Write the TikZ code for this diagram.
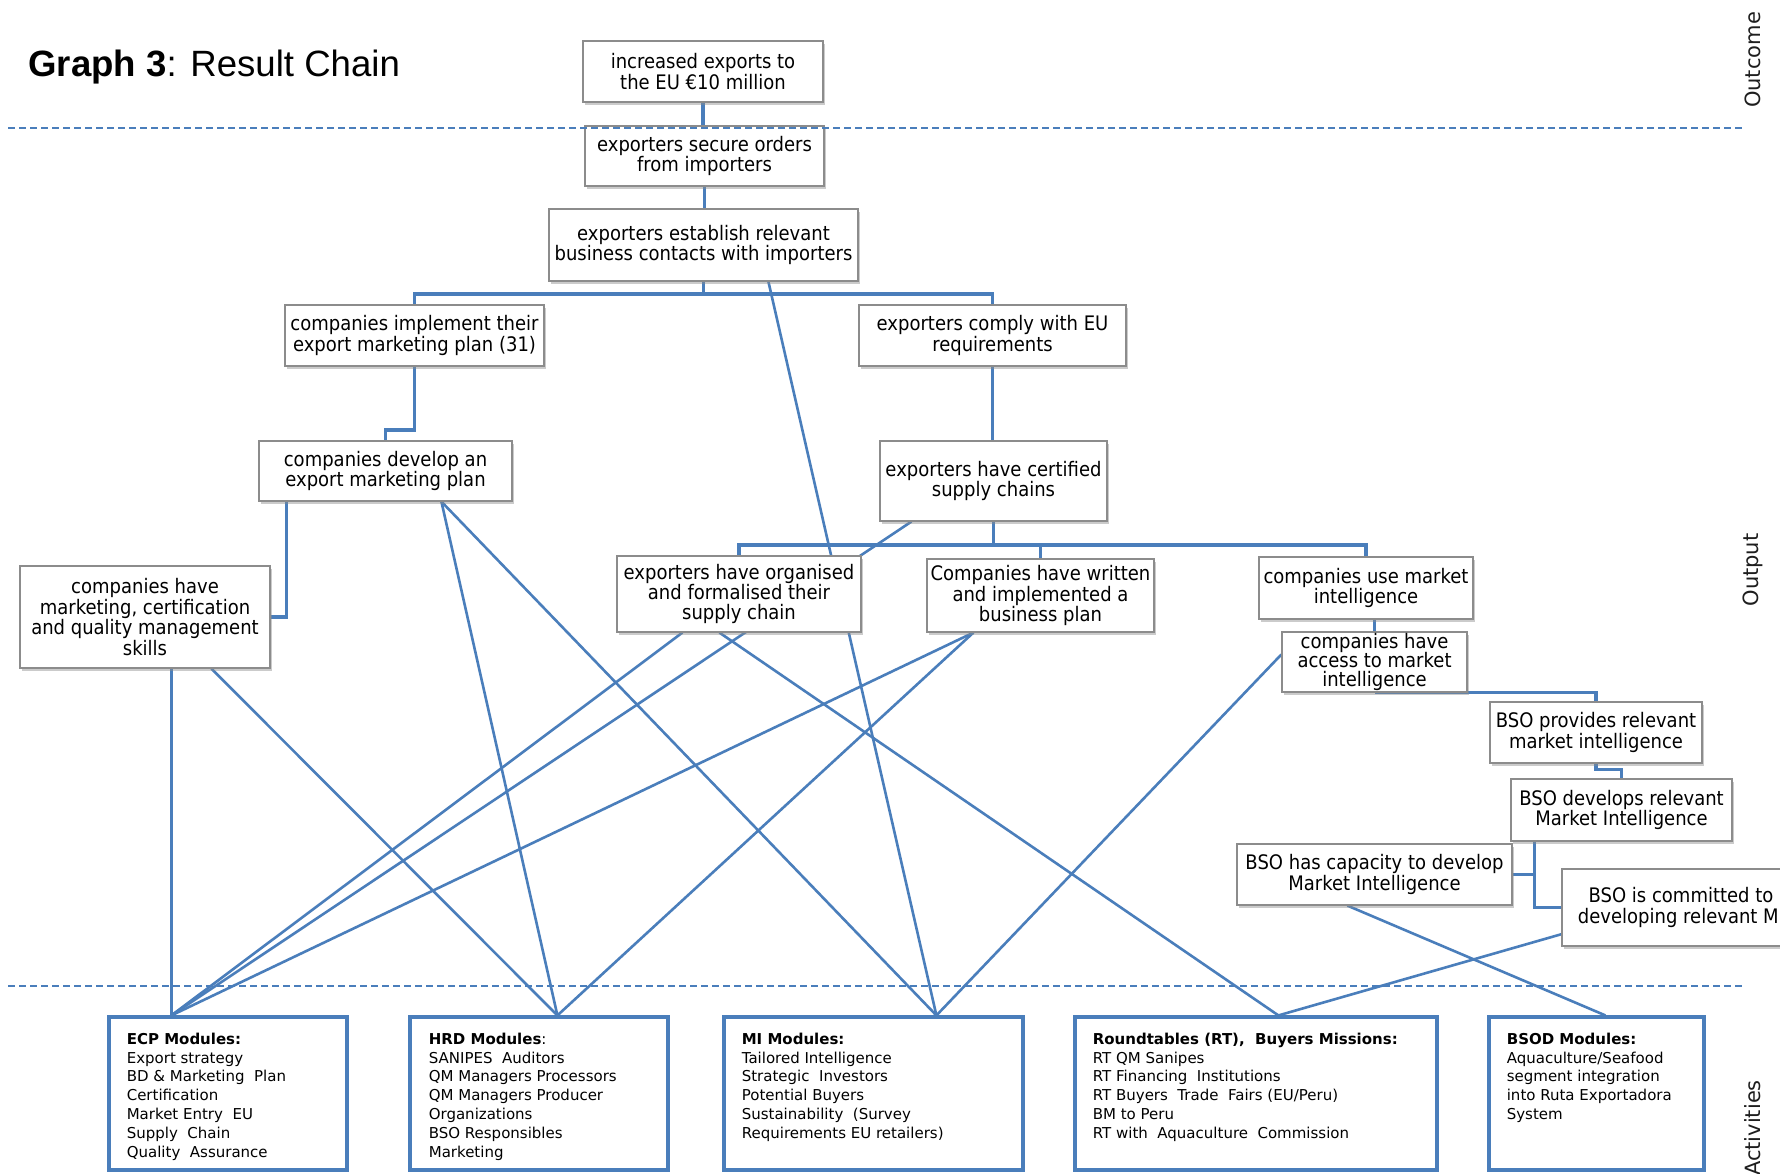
\documentclass[tikz,border=0pt]{standalone}
\usepackage{fontspec}
\newfontfamily\boxfont[FakeStretch=0.9]{DejaVu Sans}
\newfontfamily\modfont{DejaVu Sans}
\newfontfamily\sidefont{DejaVu Sans}
\newfontfamily\titlefont{Liberation Sans}
\usetikzlibrary{calc,shadows}
\pgfdeclarelayer{back}
\pgfdeclarelayer{bg}
\pgfsetlayers{back,bg,main}
\definecolor{lineblue}{RGB}{74,126,187}
\definecolor{boxgray}{RGB}{140,140,140}
\definecolor{sidetext}{RGB}{30,30,30}
\begin{document}
\begin{tikzpicture}[x=0.5pt,y=-0.5pt,
  obox/.style={draw=boxgray, line width=0.6pt, fill=white, align=center,
    inner xsep=1pt, inner ysep=0pt,
    font={\boxfont\fontsize{10}{10.2}\selectfont},
    drop shadow={shadow xshift=1.2pt, shadow yshift=-1.6pt, fill=black!45, opacity=0.45}},
  abox/.style={draw=lineblue, line width=1.6pt, fill=white, inner sep=0pt},
  mods/.style={anchor=north west, align=left, inner sep=0pt,
    font={\modfont\fontsize{7.5}{9.4}\selectfont}},
  conn/.style={draw=lineblue, line width=1.3pt},
  tree/.style={draw=lineblue, line width=1.6pt},
  sep/.style={draw=lineblue, line width=0.7pt, dash pattern=on 3.5pt off 2pt},
  side/.style={rotate=90, font={\sidefont\fontsize{10.5}{12}\selectfont}, text=sidetext}
]
\useasboundingbox (0,0) rectangle (1780,1173);
\clip (0,0) rectangle (1780,1173);
\begin{pgfonlayer}{back}
\fill[white] (0,0) rectangle (1780,1173);
\end{pgfonlayer}

% title and side labels
\node[anchor=base west, inner sep=0pt, font={\titlefont\fontsize{18.3}{21}\selectfont}] (title) at (28,76) {\textbf{Graph 3}: Result Chain};
\node[side] (outcome) at (1753,60) {Outcome};
\node[side] (output) at (1753,570) {Output};
\node[side] (activities) at (1753,1128) {Activities};

% result boxes
\node[obox, minimum width=120pt, minimum height=30.5pt] (b1) at (703,71.5) {increased exports to\\the EU €10 million};
\node[obox, minimum width=119.5pt, minimum height=30pt] (b2) at (704.5,156) {exporters secure orders\\from importers};
\node[obox, minimum width=154.5pt, minimum height=36pt] (b3) at (703.5,245) {exporters establish relevant\\business contacts with importers};
\node[obox, minimum width=129.5pt, minimum height=30.5pt] (b4) at (414.5,335.5) {companies implement their\\export marketing plan (31)};
\node[obox, minimum width=133.5pt, minimum height=30.5pt] (b5) at (992.5,335.5) {exporters comply with EU\\requirements};
\node[obox, minimum width=126.5pt, minimum height=30pt] (b6) at (385.5,471) {companies develop an\\export marketing plan};
\node[obox, minimum width=113.5pt, minimum height=40pt] (b7) at (993.5,481) {exporters have certified\\supply chains};
\node[obox, minimum width=125pt, minimum height=51pt] (b8) at (145,617) {companies have\\marketing, certification\\and quality management\\skills};
\node[obox, minimum width=122pt, minimum height=38pt] (b9) at (739,594) {exporters have organised\\and formalised their\\supply chain};
\node[obox, minimum width=113.5pt, minimum height=36.5pt] (b10) at (1040.5,595.5) {Companies have written\\and implemented a\\business plan};
\node[obox, minimum width=107pt, minimum height=31pt] (b11) at (1366,588) {companies use market\\intelligence};
\node[obox, minimum width=92.5pt, minimum height=30pt, font={\boxfont\fontsize{10}{9.7}\selectfont}] (b12) at (1374.5,662) {companies have\\access to market\\intelligence};
\node[obox, minimum width=106pt, minimum height=30.5pt] (b13) at (1596,732.5) {BSO provides relevant\\market intelligence};
\node[obox, minimum width=110.5pt, minimum height=31pt] (b14) at (1621.5,810) {BSO develops relevant\\Market Intelligence};
\node[obox, minimum width=137.5pt, minimum height=30.5pt] (b15) at (1374.5,874.5) {BSO has capacity to develop\\Market Intelligence};
\node[obox, minimum width=119pt, minimum height=38.5pt] (b16) at (1681,907.5) {BSO is committed to\\developing relevant MI};

% activity boxes
\node[abox, minimum width=119pt, minimum height=76.5pt] (ecp) at (228,1093.5) {};
\node[abox, minimum width=129pt, minimum height=76.5pt] (hrd) at (539,1093.5) {};
\node[abox, minimum width=149.5pt, minimum height=76.5pt] (mi) at (873.5,1093.5) {};
\node[abox, minimum width=181pt, minimum height=76.5pt] (rt) at (1256,1093.5) {};
\node[abox, minimum width=107.5pt, minimum height=76.5pt] (bsod) at (1596.5,1093.5) {};

\node[mods] (ecpTxt) at ($(ecp.north west)+(19,17)$) {\textbf{ECP Modules:}\\Export strategy\\BD \& Marketing\ \ Plan\\Certification\\Market Entry\ \ EU\\Supply\ \ Chain\\Quality\ \ Assurance};
\node[mods] (hrdTxt) at ($(hrd.north west)+(20,17)$) {\textbf{HRD Modules}:\\SANIPES\ \ Auditors\\QM Managers Processors\\QM Managers Producer\\Organizations\\BSO Responsibles\\Marketing};
\node[mods] (miTxt) at ($(mi.north west)+(19,17)$) {\textbf{MI Modules:}\\Tailored Intelligence\\Strategic\ \ Investors\\Potential Buyers\\Sustainability\ \ (Survey\\Requirements EU retailers)};
\node[mods] (rtTxt) at ($(rt.north west)+(19,17)$) {\textbf{Roundtables (RT),\ \ Buyers Missions:}\\RT QM Sanipes\\RT Financing\ \ Institutions\\RT Buyers\ \ Trade\ \ Fairs (EU/Peru)\\BM to Peru\\RT with\ \ Aquaculture\ \ Commission};
\node[mods] (bsodTxt) at ($(bsod.north west)+(19,17)$) {\textbf{BSOD Modules:}\\Aquaculture/Seafood\\segment integration\\into Ruta Exportadora\\System};

% connection points
\path (ecp.north west) ++(64,0) coordinate (ecpT);
\path (hrd.north west) ++(149,0) coordinate (hrdT);
\path (mi.north west) ++(214,0) coordinate (miT);
\path (rt.north west) ++(205,0) coordinate (rtT);
\path (bsod.north west) ++(118,0) coordinate (bsodT);
\path (b3.south west) ++(220,0) coordinate (b3a);
\path (b7.south west) ++(32,0) coordinate (b7a);
\path (b8.south west) ++(152,0) coordinate (b8a);
\path (b8.south west) ++(192,0) coordinate (b8b);
\path (b6.south west) ++(183,0) coordinate (b6a);
\path (b6.south west) ++(28,0) coordinate (b6b);
\path (b9.south west) ++(66,0) coordinate (b9a);
\path (b9.south west) ++(103,0) coordinate (b9b);
\path (b10.south west) ++(47,0) coordinate (b10a);
\path (b12.north west) ++(0,23) coordinate (b12a);
\path (b15.south west) ++(111,0) coordinate (b15a);
\path (b16.south west) ++(2,-13) coordinate (b16a);
\path (b14.south west) ++(24,0) coordinate (b14a);
\coordinate (bar1) at (0,294);
\coordinate (bar2) at (0,545);
\coordinate (jog1) at (0,430);

\begin{pgfonlayer}{bg}
% tree connectors
\draw[tree] (b1.south) -- (b1.south |- b2.north);
\draw[tree] (b2.south) -- (b2.south |- b3.north);
\draw[tree] (b3.south) -- (b3.south |- bar1);
\draw[tree] (b4.north) -- (b4.north |- bar1) -- (b5.north |- bar1) -- (b5.north);
\draw[tree] (b4.south) |- (b6.north |- jog1) -- (b6.north);
\draw[tree] (b5.south) -- (b5.south |- b7.north);
\draw[tree] (b6b) |- (b8.east);
\draw[tree] (b7.south) -- (b7.south |- bar2);
\draw[tree] (b9.north) -- (b9.north |- bar2) -- (b11.north |- bar2) -- (b11.north);
\draw[tree] (b10.north) -- (b10.north |- bar2);
\draw[tree] (b12.north) -- (b12.north |- b11.south);
\draw[tree] (b12.south) -| (b13.north);
\draw[tree] (b13.south) -- ++(0,6) -| (b14.north);
\draw[tree] (b14a) |- (b16.west);
\draw[tree] (b15.east) -- (b15.east -| b14a);
% links to activities
\draw[conn] (b3a) -- (miT);
\draw[conn] (b7a) -- (ecpT);
\draw[conn] (b8a) -- (ecpT);
\draw[conn] (b8b) -- (hrdT);
\draw[conn] (b6a) -- (hrdT);
\draw[conn] (b6a) -- (miT);
\draw[conn] (b9a) -- (ecpT);
\draw[conn] (b9b) -- (rtT);
\draw[conn] (b10a) -- (ecpT);
\draw[conn] (b10a) -- (hrdT);
\draw[conn] (b12a) -- (miT);
\draw[conn] (b15a) -- (bsodT);
\draw[conn] (b16a) -- (rtT);
\end{pgfonlayer}

% level separators
\coordinate (s1a) at (8,128);
\coordinate (s1b) at (1745,128);
\coordinate (s2a) at (8,986);
\coordinate (s2b) at (1745,986);
\draw[sep] (s1a) -- (s1b);
\draw[sep] (s2a) -- (s2b);
\end{tikzpicture}
\end{document}
